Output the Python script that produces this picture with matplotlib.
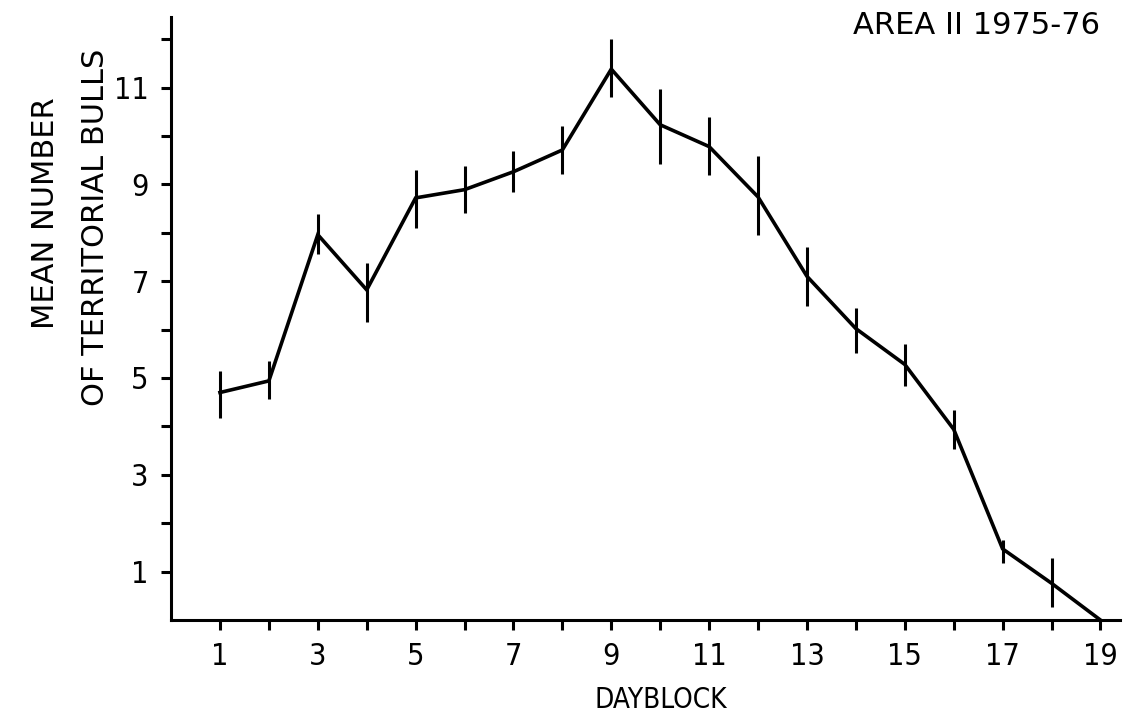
import matplotlib
matplotlib.use('Agg')
import matplotlib.pyplot as plt
import numpy as np

# Dados
dayblock = [1, 2, 3, 4, 5, 6, 7, 8, 9, 10, 11, 12, 13, 14, 15, 16, 17, 18, 19]
media = [4.70, 4.94, 7.96, 6.82, 8.72, 8.89, 9.26, 9.71, 11.38, 10.23,
         9.78, 8.74, 7.10, 6.02, 5.28, 3.94, 1.47, 0.76, 0.0]
erro_sup = [5.15, 5.35, 8.38, 7.38, 9.30, 9.37, 9.69, 10.20, 12.01, 10.97,
            10.40, 9.59, 7.70, 6.45, 5.71, 4.33, 1.65, 1.28, 0.0]
erro_inf = [4.18, 4.57, 7.57, 6.15, 8.09, 8.40, 8.84, 9.22, 10.80, 9.42,
            9.20, 7.96, 6.49, 5.51, 4.83, 3.53, 1.17, 0.27, 0.0]

x_rotulos = [1, 3, 5, 7, 9, 11, 13, 15, 17, 19]
y_rotulos = [1, 3, 5, 7, 9, 11]

fig = plt.figure(figsize=(11.35, 7.21), dpi=100)
ax = fig.add_axes([0.1507, 0.140, 0.8361, 0.836])

media = np.array(media)
yerr = [media - np.array(erro_inf), np.array(erro_sup) - media]

ax.plot(dayblock, media, color='black', linewidth=2.6, solid_joinstyle='miter')
ax.errorbar(dayblock[:-1], media[:-1], yerr=[yerr[0][:-1], yerr[1][:-1]],
            fmt='none', ecolor='black', elinewidth=2.2, capsize=0)

ax.set_xlim(0, 19.4)
ax.set_ylim(0, 12.45)

for lado in ['top', 'right']:
    ax.spines[lado].set_visible(False)
for lado in ['left', 'bottom']:
    ax.spines[lado].set_linewidth(2.2)

ax.set_xticks(range(1, 20))
ax.set_xticklabels([str(v) if v in x_rotulos else '' for v in range(1, 20)],
                   family='DejaVu Sans', fontstretch='condensed', fontsize=22)
ax.set_yticks(range(1, 13))
ax.set_yticklabels([str(v) if v in y_rotulos else '' for v in range(1, 13)],
                   family='DejaVu Sans', fontstretch='condensed', fontsize=22)
ax.tick_params(axis='both', direction='out', length=7, width=2.2, pad=9)

fig.text(0.969, 0.965, 'AREA II 1975-76', ha='right', va='center',
         fontsize=22, family='DejaVu Sans')
fig.text(0.040, 0.705, 'MEAN NUMBER', rotation=90, ha='center', va='center',
         fontsize=22, family='DejaVu Sans')
fig.text(0.084, 0.685, 'OF TERRITORIAL BULLS', rotation=90, ha='center',
         va='center', fontsize=22, family='DejaVu Sans')
fig.text(0.582, 0.029, 'DAYBLOCK', ha='center', va='center',
         fontsize=20, family='DejaVu Sans', fontstretch='condensed')

fig.savefig('out.png', dpi=100)
